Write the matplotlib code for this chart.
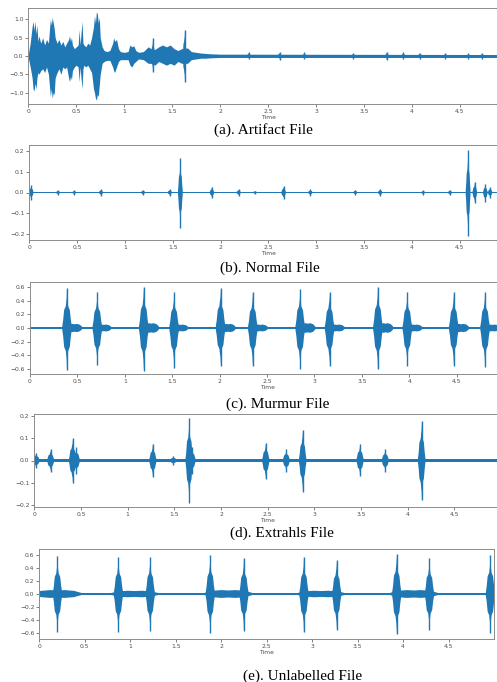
import numpy as np
import matplotlib
matplotlib.use("Agg")
import matplotlib.pyplot as plt

BLUE = '#1f77b4'

# ---- (a) artifact: envelope (time, upper, lower)
a_t = [0.00, 0.02, 0.04, 0.05, 0.06, 0.07, 0.08, 0.09, 0.10, 0.11, 0.13, 0.15, 0.17, 0.19,
       0.21, 0.22, 0.23, 0.24, 0.25, 0.26, 0.27, 0.28, 0.30, 0.32, 0.34, 0.36, 0.38, 0.40,
       0.42, 0.43, 0.44, 0.45, 0.46, 0.48, 0.50, 0.52, 0.53, 0.54, 0.56, 0.57, 0.58, 0.60,
       0.62, 0.64, 0.66, 0.68, 0.69, 0.70, 0.71, 0.72, 0.73, 0.74, 0.75, 0.77, 0.79, 0.82,
       0.85, 0.88, 0.89, 0.90, 0.92, 0.94, 0.96, 1.00, 1.04, 1.06, 1.08, 1.10, 1.12, 1.15,
       1.20, 1.25, 1.28, 1.32, 1.36, 1.40, 1.44, 1.48, 1.52, 1.56, 1.60, 1.66, 1.70, 1.75,
       1.80, 1.85, 1.90, 2.00, 5.00]
a_up = [0.05, 0.35, 0.80, 0.95, 0.70, 0.95, 0.60, 0.85, 0.40, 0.55, 0.35, 0.50, 0.30, 0.45,
        0.35, 0.70, 1.00, 0.85, 1.05, 0.90, 0.75, 0.50, 0.35, 0.45, 0.30, 0.40, 0.25, 0.35,
        0.45, 0.55, 0.40, 0.50, 0.30, 0.20, 0.25, 0.30, 0.72, 0.30, 0.95, 0.35, 0.30, 0.25,
        0.35, 0.30, 0.50, 0.80, 1.10, 0.90, 1.20, 1.15, 0.90, 1.05, 0.50, 0.25, 0.15, 0.12,
        0.15, 0.35, 0.50, 0.40, 0.45, 0.20, 0.12, 0.10, 0.12, 0.30, 0.25, 0.28, 0.15, 0.10,
        0.12, 0.25, 0.20, 0.18, 0.25, 0.30, 0.25, 0.30, 0.20, 0.15, 0.20, 0.22, 0.12, 0.10,
        0.08, 0.07, 0.06, 0.05, 0.04]
a_lo = [-0.05, -0.30, -0.60, -0.90, -0.95, -0.75, -0.90, -0.60, -0.45, -0.50, -0.40, -0.35, -0.45, -0.30,
        -0.50, -0.80, -1.10, -0.90, -1.15, -1.00, -1.05, -0.60, -0.45, -0.35, -0.50, -0.30, -0.35, -0.30,
        -0.60, -0.70, -0.55, -0.65, -0.40, -0.30, -0.25, -0.30, -0.70, -0.30, -0.90, -0.35, -0.25, -0.30,
        -0.25, -0.35, -0.45, -0.90, -1.00, -1.15, -1.20, -1.05, -1.10, -0.80, -0.50, -0.20, -0.15, -0.12,
        -0.12, -0.30, -0.40, -0.45, -0.30, -0.15, -0.10, -0.10, -0.10, -0.25, -0.30, -0.20, -0.15, -0.08,
        -0.10, -0.20, -0.20, -0.25, -0.15, -0.20, -0.25, -0.20, -0.25, -0.15, -0.20, -0.20, -0.10, -0.08,
        -0.06, -0.06, -0.05, -0.04, -0.04]
a_ev_t = [1.30, 1.63, 2.30, 2.62, 2.88, 3.39, 3.74, 3.91, 4.08, 4.35, 4.59, 4.73]
a_ev_up = [0.50, 0.72, 0.10, 0.10, 0.10, 0.08, 0.12, 0.10, 0.08, 0.08, 0.07, 0.07]
a_ev_lo = [-0.45, -0.70, -0.08, -0.10, -0.08, -0.08, -0.12, -0.08, -0.08, -0.08, -0.07, -0.07]

# ---- (b) normal
b_t = [0.02, 0.30, 0.47, 0.75, 1.19, 1.47, 1.58, 1.91, 2.19, 2.36, 2.66, 2.94, 3.41, 3.67,
       4.12, 4.40, 4.59, 4.66, 4.77, 4.82]
b_up = [0.035, 0.010, 0.010, 0.015, 0.012, 0.015, 0.165, 0.025, 0.015, 0.008, 0.030, 0.015,
        0.012, 0.017, 0.010, 0.012, 0.205, 0.050, 0.040, 0.025]
b_lo = [-0.035, -0.010, -0.010, -0.015, -0.012, -0.015, -0.170, -0.025, -0.015, -0.008, -0.030, -0.015,
        -0.012, -0.017, -0.010, -0.012, -0.210, -0.050, -0.045, -0.025]

# ---- (c) murmur
c_t = [0.39, 0.71, 1.20, 1.52, 2.01, 2.35, 2.85, 3.16, 3.67, 3.98, 4.47, 4.80]
c_up = [0.58, 0.52, 0.60, 0.52, 0.58, 0.52, 0.57, 0.52, 0.60, 0.52, 0.52, 0.53]
c_lo = [-0.61, -0.54, -0.62, -0.58, -0.55, -0.56, -0.60, -0.55, -0.60, -0.56, -0.55, -0.57]
c_mur_t = [0.47, 0.78, 1.28, 1.59, 2.09, 2.43, 2.93, 3.24, 3.75, 4.06, 4.55, 4.88]
c_mur_amp = [0.06, 0.05, 0.07, 0.05, 0.06, 0.05, 0.07, 0.05, 0.07, 0.05, 0.06, 0.05]

# ---- (d) extrahls
d_t = [0.02, 0.175, 0.41, 0.45, 1.27, 1.49, 1.66, 1.69, 2.48, 2.70, 2.875, 3.49, 3.76, 4.15]
d_up = [0.035, 0.05, 0.10, 0.06, 0.075, 0.02, 0.19, 0.06, 0.08, 0.05, 0.14, 0.075, 0.05, 0.18]
d_lo = [-0.035, -0.05, -0.10, -0.06, -0.075, -0.02, -0.19, -0.06, -0.085, -0.05, -0.14, -0.07, -0.05, -0.18]

# ---- (e) unlabelled
e_t = [0.20, 0.87, 1.22, 1.88, 2.25, 2.91, 3.27, 3.93, 4.29, 4.96]
e_up = [0.58, 0.57, 0.57, 0.60, 0.55, 0.57, 0.52, 0.62, 0.55, 0.60]
e_lo = [-0.58, -0.58, -0.57, -0.60, -0.56, -0.58, -0.55, -0.62, -0.55, -0.60]
e_noise_t = [0.20, 1.05, 2.08, 3.10, 4.12]
e_noise_amp = [0.06, 0.05, 0.06, 0.05, 0.06]

captions = ["(a). Artifact File", "(b). Normal File", "(c). Murmur File",
            "(d). Extrahls File", "(e). Unlabelled File"]
xticks = [0, 0.5, 1, 1.5, 2, 2.5, 3, 3.5, 4, 4.5]
xticklabels = ["0", "0.5", "1", "1.5", "2", "2.5", "3", "3.5", "4", "4.5"]

W, H = 497, 682
fig = plt.figure(figsize=(W / 100, H / 100), dpi=100)

# shape of one beat burst (relative offsets / relative amplitude)
OFF = np.array([-1, -0.8, -0.6, -0.25, -0.06, 0, 0.06, 0.25, 0.6, 0.8, 1.0])
AMP = np.array([0.04, 0.2, 0.45, 0.55, 0.75, 1, 0.75, 0.55, 0.45, 0.22, 0.06])
# flat-ish shape for noisy stretches
NOFF = np.array([-1, -0.7, -0.3, 0, 0.3, 0.7, 1.0])
NAMP = np.array([0.3, 0.8, 1.0, 0.9, 1.0, 0.8, 0.3])


def bursts(ax, ts, ups, los, w, spike=True):
    for t, u, l in zip(ts, ups, los):
        xs = t + w * OFF
        ax.fill(np.concatenate([xs, xs[::-1]]),
                np.concatenate([u * AMP, (l * AMP)[::-1]]),
                color=BLUE, lw=0)
        if spike:
            ax.vlines(t, l, u, color=BLUE, lw=1.0)


def noise(ax, ts, amps, w):
    for t, a in zip(ts, amps):
        xs = t + w * NOFF
        ax.fill(np.concatenate([xs, xs[::-1]]),
                np.concatenate([a * NAMP, (-a * NAMP)[::-1]]),
                color=BLUE, lw=0)


def make_ax(left, right, top, bottom, ylim, yticks, ylabels, cap, cap_x, cap_y, rspine=False):
    ax = fig.add_axes([left / W, 1 - bottom / H, (right - left) / W, (bottom - top) / H])
    ax.set_xlim(0, 5.0)
    ax.set_ylim(-ylim, ylim)
    ax.set_xticks(xticks)
    ax.set_xticklabels(xticklabels)
    ax.set_yticks(yticks)
    ax.set_yticklabels(ylabels)
    ax.tick_params(labelsize=4.3, length=2, width=0.5, pad=1.5, colors='0.3')
    ax.set_xlabel("Time", fontsize=4.3, labelpad=0.5, color='0.3')
    for s in ax.spines.values():
        s.set_color('0.55')
        s.set_linewidth(0.7)
    ax.spines['right'].set_visible(rspine)
    fig.text(cap_x / W, 1 - cap_y / H, cap, ha='center', va='center',
             family='Liberation Serif', fontsize=11)
    return ax


# (a)
ax = make_ax(28.3, 507.8, 8, 104, 1.31, [-1.0, -0.5, 0.0, 0.5, 1.0],
             ["−1.0", "−0.5", "0.0", "0.5", "1.0"], captions[0], 263, 130)
ax.fill_between(a_t, a_lo, a_up, color=BLUE, lw=0)
bursts(ax, a_ev_t, a_ev_up, a_ev_lo, 0.02)

# (b)
ax = make_ax(29.3, 507.3, 145, 240, 0.23, [-0.2, -0.1, 0.0, 0.1, 0.2],
             ["−0.2", "−0.1", "0.0", "0.1", "0.2"], captions[1], 270, 268)
ax.fill_between([0, 5], [-0.003, -0.003], [0.003, 0.003], color=BLUE, lw=0)
bursts(ax, b_t, b_up, b_lo, 0.025)

# (c)
ax = make_ax(30, 504, 282, 374, 0.67, [-0.6, -0.4, -0.2, 0.0, 0.2, 0.4, 0.6],
             ["−0.6", "−0.4", "−0.2", "0.0", "0.2", "0.4", "0.6"], captions[2], 278, 404)
ax.fill_between([0, 5], [-0.018, -0.018], [0.018, 0.018], color=BLUE, lw=0)
noise(ax, c_mur_t, c_mur_amp, 0.08)
bursts(ax, c_t, c_up, c_lo, 0.05)

# (d)
ax = make_ax(34.3, 501, 414, 507, 0.21, [-0.2, -0.1, 0.0, 0.1, 0.2],
             ["−0.2", "−0.1", "0.0", "0.1", "0.2"], captions[3], 282, 533)
ax.fill_between([0, 5], [-0.007, -0.007], [0.007, 0.007], color=BLUE, lw=0)
bursts(ax, d_t, d_up, d_lo, 0.04)

# (e)
ax = make_ax(39.3, 494, 549, 639, 0.69, [-0.6, -0.4, -0.2, 0.0, 0.2, 0.4, 0.6],
             ["−0.6", "−0.4", "−0.2", "0.0", "0.2", "0.4", "0.6"], captions[4], 303, 676,
             rspine=True)
ax.fill_between([0, 5], [-0.02, -0.02], [0.02, 0.02], color=BLUE, lw=0)
noise(ax, e_noise_t, e_noise_amp, 0.26)
bursts(ax, e_t, e_up, e_lo, 0.05)

fig.savefig("out.png", dpi=100)
